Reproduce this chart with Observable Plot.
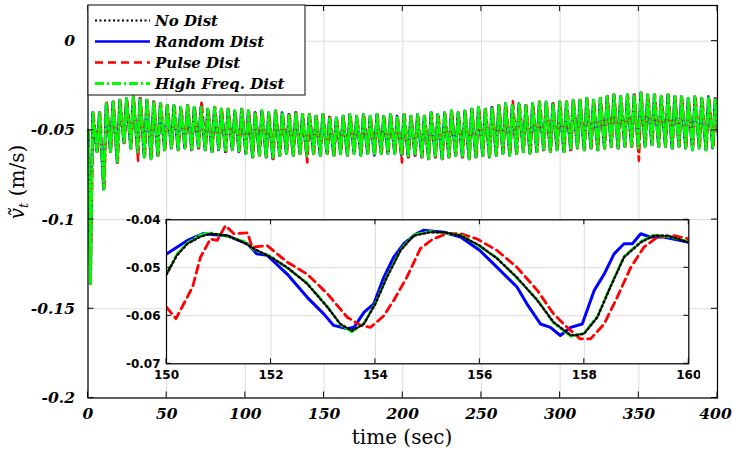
<!DOCTYPE html>
<html><head><meta charset="utf-8">
<script src="https://cdn.jsdelivr.net/npm/d3@7"></script>
<script src="https://cdn.jsdelivr.net/npm/@observablehq/plot@0.6"></script>
<style>
body{margin:0;background:#fff;}
#chart{position:relative;width:732px;height:455px;}
#chart svg{position:absolute;left:0;top:0;}
</style></head><body><div id="chart"></div>
<script>
// ---------- data ----------
const seriesNames = ["No Dist", "Random Dist", "Pulse Dist", "High Freq. Dist"];
const seriesColors = ["#000000", "#0000ff", "#ff0000", "#00ff00"];
const seriesDash = ["2,2.5", "none", "8,5", "9,3,2,3"];
const seriesWidth = [2, 2.6, 2.6, 2.8];

const xTicks = [0, 50, 100, 150, 200, 250, 300, 350, 400];
const yTicks = [0, -0.05, -0.1, -0.15, -0.2];
const yTickLabels = ["0", "-0.05", "-0.1", "-0.15", "-0.2"];
const insetXTicks = [150, 152, 154, 156, 158, 160];
const insetYTicks = [-0.04, -0.05, -0.06, -0.07];
const insetYLabels = ["-0.04", "-0.05", "-0.06", "-0.07"];

// main plot: oscillation read cycle by cycle (peak and trough of every cycle)
const cyclePeriod = 4.3, firstPeakT = 3.0, peakToTrough = 2.7;
const mainPeaks = [-0.040,-0.040,-0.035,-0.034,-0.033,-0.032,-0.031,-0.032,-0.033,-0.034,
  -0.035,-0.036,-0.036,-0.037,-0.036,-0.037,-0.037,-0.038,-0.037,-0.038,
  -0.038,-0.039,-0.038,-0.039,-0.040,-0.039,-0.040,-0.039,-0.040,-0.041,
  -0.040,-0.041,-0.041,-0.042,-0.041,-0.0425,-0.043,-0.042,-0.041,-0.042,
  -0.041,-0.042,-0.041,-0.042,-0.041,-0.042,-0.041,-0.042,-0.041,-0.042,
  -0.040,-0.041,-0.040,-0.039,-0.040,-0.039,-0.038,-0.037,-0.038,-0.037,
  -0.036,-0.035,-0.036,-0.035,-0.036,-0.035,-0.034,-0.034,-0.035,-0.034,
  -0.034,-0.033,-0.033,-0.032,-0.033,-0.032,-0.031,-0.030,-0.031,-0.030,
  -0.030,-0.029,-0.030,-0.030,-0.031,-0.030,-0.031,-0.031,-0.032,-0.031,
  -0.032,-0.031,-0.032];
const mainTroughs = [-0.062,-0.083,-0.062,-0.068,-0.057,-0.060,-0.062,-0.065,-0.066,-0.064,
  -0.061,-0.060,-0.061,-0.060,-0.061,-0.060,-0.061,-0.062,-0.061,-0.062,
  -0.061,-0.062,-0.063,-0.065,-0.064,-0.065,-0.066,-0.064,-0.063,-0.064,
  -0.063,-0.064,-0.063,-0.064,-0.063,-0.064,-0.063,-0.064,-0.063,-0.064,
  -0.063,-0.064,-0.063,-0.063,-0.063,-0.064,-0.065,-0.064,-0.065,-0.066,
  -0.065,-0.066,-0.065,-0.064,-0.065,-0.066,-0.065,-0.064,-0.065,-0.064,
  -0.063,-0.064,-0.063,-0.062,-0.063,-0.062,-0.061,-0.062,-0.061,-0.062,
  -0.061,-0.060,-0.061,-0.060,-0.061,-0.060,-0.059,-0.060,-0.059,-0.059,
  -0.060,-0.059,-0.058,-0.059,-0.059,-0.060,-0.059,-0.060,-0.061,-0.060,
  -0.061,-0.060,-0.061];
const startT = [0, 0.5, 1.6];
const startV = [-0.050, -0.062, -0.136];
const seriesLag = [0, -0.15, 0.35, 0.05];
// pulse disturbance excursions of the red series
const pulseT = [10.4, 30.5, 70.7, 120.6, 140.5, 200.7, 230.5, 270.5, 330, 350.5];
const pulseV = [-0.0335, -0.067, -0.0335, -0.039, -0.068, -0.068, -0.039, -0.0335, -0.0307, -0.067];

// inset (150-160 s)
const noDistT = [150,150.2,150.4,150.65,150.84,151.16,151.48,151.67,152.0,152.31,152.69,153.08,153.33,153.55,153.78,154.0,154.22,154.48,154.73,155.05,155.31,155.63,156.0,156.33,156.71,157.1,157.41,157.74,157.99,158.25,158.5,158.76,159.08,159.33,159.59,160];
const noDistV = [-0.0514,-0.0474,-0.045,-0.0435,-0.0429,-0.0433,-0.0447,-0.046,-0.0478,-0.0499,-0.0533,-0.0582,-0.0617,-0.0631,-0.0617,-0.0575,-0.052,-0.0464,-0.0433,-0.0426,-0.0426,-0.0433,-0.0454,-0.0481,-0.052,-0.0568,-0.0613,-0.0641,-0.0638,-0.0603,-0.054,-0.0478,-0.0447,-0.0433,-0.0433,-0.0447];
const highFreqV = [-0.0512,-0.0471,-0.0448,-0.0431,-0.0427,-0.0435,-0.0444,-0.0462,-0.0476,-0.0501,-0.0531,-0.058,-0.0619,-0.0634,-0.0615,-0.0573,-0.0518,-0.0462,-0.0431,-0.0424,-0.0428,-0.0431,-0.0456,-0.0479,-0.0522,-0.0566,-0.0615,-0.0643,-0.0636,-0.0601,-0.0538,-0.0476,-0.0445,-0.0431,-0.0435,-0.0445];
const randomT = [150,150.2,150.4,150.7,151.16,151.55,151.73,151.93,152.31,152.69,153.01,153.2,153.46,153.59,153.78,153.97,154.16,154.35,154.54,154.8,154.92,155.31,155.63,156.0,156.33,156.71,156.9,157.16,157.35,157.54,157.74,157.96,158.19,158.38,158.57,158.76,158.92,159.08,159.27,159.52,160];
const randomV = [-0.0471,-0.0457,-0.0443,-0.0429,-0.0433,-0.045,-0.0471,-0.0474,-0.0513,-0.0561,-0.0596,-0.062,-0.0627,-0.0624,-0.0593,-0.0575,-0.052,-0.0478,-0.045,-0.0428,-0.0422,-0.0426,-0.0436,-0.0464,-0.0499,-0.054,-0.0575,-0.0617,-0.0624,-0.0641,-0.0624,-0.0617,-0.0547,-0.0513,-0.0471,-0.045,-0.045,-0.0429,-0.0436,-0.0436,-0.0447];
const pulseInT = [150,150.18,150.5,150.65,150.84,150.97,151.13,151.29,151.55,151.64,151.93,152.31,152.69,153.08,153.46,153.72,153.91,154.16,154.35,154.6,154.86,155.1,155.37,155.63,155.95,156.33,156.71,157.1,157.41,157.67,157.92,158.12,158.38,158.63,158.89,159.14,159.4,159.72,160];
const pulseInV = [-0.0582,-0.0606,-0.054,-0.0478,-0.044,-0.0443,-0.0412,-0.0429,-0.0427,-0.0457,-0.0454,-0.0488,-0.0513,-0.0554,-0.0603,-0.062,-0.0624,-0.06,-0.0568,-0.052,-0.046,-0.044,-0.0429,-0.0429,-0.044,-0.0464,-0.0499,-0.0547,-0.0596,-0.0624,-0.0648,-0.0648,-0.0617,-0.0561,-0.0499,-0.0457,-0.0436,-0.0433,-0.044];

// ---------- build tables ----------
const mainRows = [];
seriesNames.forEach((name, s) => {
  const pts = startT.map((t, i) => ({t, v: startV[i], kind: "s"}));
  mainPeaks.forEach((p, i) => {
    const tp = firstPeakT + i * cyclePeriod + seriesLag[s];
    pts.push({t: tp, v: p, kind: "p"});
    pts.push({t: tp + peakToTrough, v: mainTroughs[i], kind: "t"});
  });
  if (s === 2) {
    pulseT.forEach((t, i) => {
      const kind = pulseV[i] > -0.05 ? "p" : "t";
      let best = null;
      pts.forEach(q => { if (q.kind === kind && (!best || Math.abs(q.t - t) < Math.abs(best.t - t))) best = q; });
      best.v = pulseV[i];
    });
  }
  pts.sort((a, b) => a.t - b.t);
  pts.forEach(p => mainRows.push({series: name, t: p.t, v: p.v}));
});
const insetRows = [];
noDistT.forEach((t, i) => insetRows.push({series: seriesNames[0], t, v: noDistV[i]}));
randomT.forEach((t, i) => insetRows.push({series: seriesNames[1], t, v: randomV[i]}));
pulseInT.forEach((t, i) => insetRows.push({series: seriesNames[2], t, v: pulseInV[i]}));
noDistT.forEach((t, i) => insetRows.push({series: seriesNames[3], t, v: highFreqV[i]}));

const lineMarks = (rows, order, widths) => order.map(s => Plot.line(rows.filter(r => r.series === seriesNames[s]), {
  x: "t", y: "v", stroke: seriesColors[s], strokeWidth: widths[s],
  strokeDasharray: seriesDash[s] === "none" ? null : seriesDash[s], clip: true, curve: "linear"
}));

const gridColor = "#dcdcdc";
const serif = "DejaVu Serif";

// ---------- main plot ----------
const main = Plot.plot({
  width: 732, height: 455,
  marginLeft: 87.5, marginRight: 15, marginTop: 5, marginBottom: 57.5,
  style: {background: "transparent", fontFamily: serif},
  x: {domain: [0, 400]},
  y: {domain: [-0.2, 0.02]},
  marks: [
    Plot.gridX(xTicks, {stroke: gridColor, strokeOpacity: 1}),
    Plot.gridY(yTicks, {stroke: gridColor, strokeOpacity: 1}),
    ...lineMarks(mainRows, [0, 1, 2, 3], seriesWidth),
    Plot.frame({stroke: "black", strokeWidth: 1.2}),
    Plot.axisX(xTicks, {tickSize: 0, tickPadding: 10, label: null, fontSize: 15.5, fontWeight: "bold", fontStyle: "italic", fontFamily: serif, tickFormat: d => String(d)}),
    Plot.axisY(yTicks, {tickSize: 0, tickPadding: 13, label: null, fontSize: 15.5, fontWeight: "bold", fontStyle: "italic", fontFamily: serif, tickFormat: d => yTickLabels[yTicks.indexOf(d)]})
  ]
});
document.getElementById("chart").appendChild(main);
// keep the last x tick label inside the picture
d3.select(main).selectAll("text").filter(function () { return this.textContent === "400"; }).attr("dx", -2);

function inwardTicks(plot, xs, ys, len) {
  const sx = plot.scale("x"), sy = plot.scale("y");
  const [x0, x1] = sx.range, [y0, y1] = sy.range;
  const g = d3.select(plot).append("g").attr("stroke", "black").attr("stroke-width", 1);
  xs.forEach(v => {
    const x = sx.apply(v);
    g.append("line").attr("x1", x).attr("x2", x).attr("y1", y0).attr("y2", y0 - len);
    g.append("line").attr("x1", x).attr("x2", x).attr("y1", y1).attr("y2", y1 + len);
  });
  ys.forEach(v => {
    const y = sy.apply(v);
    g.append("line").attr("y1", y).attr("y2", y).attr("x1", x0).attr("x2", x0 + len);
    g.append("line").attr("y1", y).attr("y2", y).attr("x1", x1).attr("x2", x1 - len);
  });
}
inwardTicks(main, xTicks, yTicks, 6);

const msvg = d3.select(main);
// axis titles
msvg.append("text").attr("x", 402).attr("y", 444).attr("text-anchor", "middle")
  .attr("font-family", serif).attr("font-size", 20).attr("fill", "black").text("time (sec)");
const yl = msvg.append("text").attr("transform", "translate(24,182) rotate(-90)")
  .attr("text-anchor", "middle").attr("font-family", serif).attr("font-size", 20).attr("fill", "black");
yl.append("tspan").attr("font-style", "italic").text("v\u0303");
yl.append("tspan").attr("font-style", "italic").attr("font-size", 13).attr("dy", 4).text("t");
yl.append("tspan").attr("dy", -4).text(" (m/s)");

// legend
const lg = msvg.append("g").attr("text-anchor", "start");
lg.append("rect").attr("x", 88).attr("y", 5).attr("width", 217).attr("height", 90)
  .attr("fill", "white").attr("stroke", "#333").attr("stroke-width", 1.2);
seriesNames.forEach((name, s) => {
  const cy = 20.5 + s * 21;
  lg.append("line").attr("x1", 95).attr("x2", 150).attr("y1", cy).attr("y2", cy)
    .attr("stroke", seriesColors[s]).attr("stroke-width", seriesWidth[s])
    .attr("stroke-dasharray", seriesDash[s]);
  lg.append("text").attr("x", 155).attr("y", cy + 5.5).attr("text-anchor", "start")
    .attr("font-family", serif).attr("font-size", 15).attr("font-weight", "bold")
    .attr("font-style", "italic").attr("fill", "black").text(name);
});

// ---------- inset ----------
const inset = Plot.plot({
  width: 600, height: 185,
  marginLeft: 66, marginRight: 11.7, marginTop: 14.3, marginBottom: 26.7,
  style: {background: "transparent", fontFamily: "DejaVu Sans"},
  x: {domain: [150, 160]},
  y: {domain: [-0.07, -0.04]},
  marks: [
    Plot.frame({fill: "white"}),
    Plot.gridX(insetXTicks, {stroke: gridColor, strokeOpacity: 1}),
    Plot.gridY(insetYTicks, {stroke: gridColor, strokeOpacity: 1}),
    ...lineMarks(insetRows, [1, 2, 3, 0], [2.4, 3, 2.8, 2.4]),
    Plot.frame({stroke: "black", strokeWidth: 1.2}),
    Plot.axisX(insetXTicks, {tickSize: 0, tickPadding: 7, label: null, fontSize: 12, fontWeight: "bold", fontFamily: "DejaVu Sans", tickFormat: d => String(d)}),
    Plot.axisY(insetYTicks, {tickSize: 0, tickPadding: 6, label: null, fontSize: 12, fontWeight: "bold", fontFamily: "DejaVu Sans", tickFormat: d => insetYLabels[insetYTicks.indexOf(d)]})
  ]
});
inset.style.left = "100px";
inset.style.top = "205px";
document.getElementById("chart").appendChild(inset);
inwardTicks(inset, insetXTicks, insetYTicks, 5);
</script>
</body></html>
